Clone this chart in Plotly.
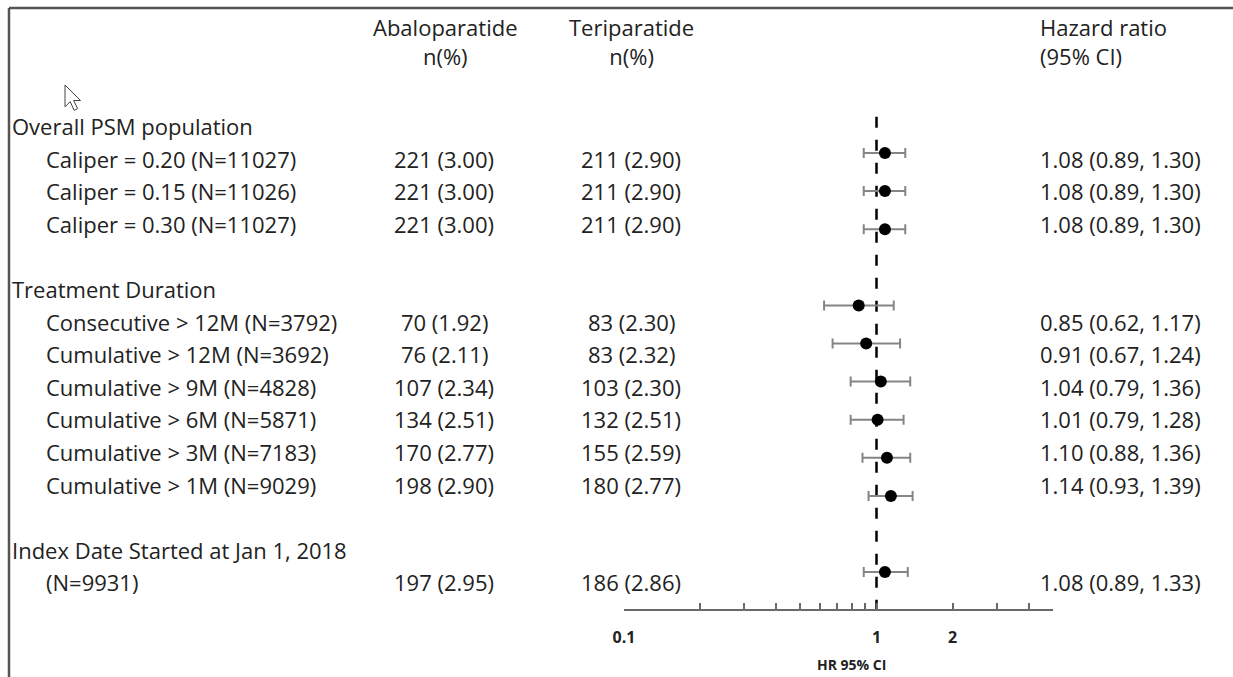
import math
import plotly.graph_objects as go

W, H = 1233, 677

# ---- table content -------------------------------------------------------
sections = [
    "Overall PSM population",
    "Treatment Duration",
    "Index Date Started at Jan 1, 2018",
]
row_section = [0, 0, 0, 1, 1, 1, 1, 1, 1, 2]
row_labels = [
    "Caliper = 0.20 (N=11027)",
    "Caliper = 0.15 (N=11026)",
    "Caliper = 0.30 (N=11027)",
    "Consecutive > 12M (N=3792)",
    "Cumulative > 12M (N=3692)",
    "Cumulative > 9M (N=4828)",
    "Cumulative > 6M (N=5871)",
    "Cumulative > 3M (N=7183)",
    "Cumulative > 1M (N=9029)",
    "(N=9931)",
]
abalo_n = [221, 221, 221, 70, 76, 107, 134, 170, 198, 197]
abalo_pct = [3.00, 3.00, 3.00, 1.92, 2.11, 2.34, 2.51, 2.77, 2.90, 2.95]
teri_n = [211, 211, 211, 83, 83, 103, 132, 155, 180, 186]
teri_pct = [2.90, 2.90, 2.90, 2.30, 2.32, 2.30, 2.51, 2.59, 2.77, 2.86]
hr = [1.08, 1.08, 1.08, 0.85, 0.91, 1.04, 1.01, 1.10, 1.14, 1.08]
hr_lo = [0.89, 0.89, 0.89, 0.62, 0.67, 0.79, 0.79, 0.88, 0.93, 0.89]
hr_hi = [1.30, 1.30, 1.30, 1.17, 1.24, 1.36, 1.28, 1.36, 1.39, 1.33]

headers = {
    "abalo": "Abaloparatide<br>n(%)",
    "teri": "Teriparatide<br>n(%)",
    "hr": "Hazard ratio<br>(95% CI)",
}
axis_ticks = [0.1, 0.2, 0.3, 0.4, 0.5, 0.6, 0.7, 0.8, 0.9, 1, 2, 3, 4, 5]
axis_labels = {0.1: "0.1", 1: "1", 2: "2"}
axis_title = "HR 95% CI"

# ---- layout helpers ------------------------------------------------------
FONT = "Open Sans"
TXT = "#222222"
FS = 22


def px(x):
    return x / W


def py(y):
    return 1 - y / H


# text grid: one line every 32.6 px starting at the first section title
TEXT_Y0, TEXT_STEP = 126, 32.6
# forest rows: one row every 38.1 px starting at the first estimate
PLOT_Y0, PLOT_STEP = 153, 38.1

annotations = []


def add_text(x, y, text, anchor="left", size=FS, bold=False):
    annotations.append(dict(
        x=px(x), y=py(y), xref="paper", yref="paper", text=text,
        showarrow=False, xanchor=anchor, yanchor="middle", borderpad=0,
        align=anchor,
        font=dict(family=FONT, size=size, color=TXT,
                  weight="bold" if bold else "normal"),
    ))


# column headers (two lines each)
add_text(445, 41, headers["abalo"], "center")
add_text(631, 41, headers["teri"], "center")
add_text(1039, 41, headers["hr"])

# body rows
plot_rows = []
t = 0
prev = None
for i, lab in enumerate(row_labels):
    g = row_section[i]
    if g != prev:
        if prev is not None:
            t += 1  # blank line between sections
        add_text(11, TEXT_Y0 + TEXT_STEP * t, sections[g])
        t += 1
        prev = g
    y = TEXT_Y0 + TEXT_STEP * t
    add_text(45, y, lab)
    add_text(444, y, f"{abalo_n[i]} ({abalo_pct[i]:.2f})", "center")
    add_text(631, y, f"{teri_n[i]} ({teri_pct[i]:.2f})", "center")
    add_text(1039, y, f"{hr[i]:.2f} ({hr_lo[i]:.2f}, {hr_hi[i]:.2f})")
    plot_rows.append(t - 1 - g)
    t += 1

axis_row = max(plot_rows) + 1
axis_px = PLOT_Y0 + PLOT_STEP * axis_row

add_text(851, 664, axis_title, "center", size=14, bold=True)

# ---- forest plot ---------------------------------------------------------
fig = go.Figure()
fig.add_trace(go.Scatter(
    x=hr, y=plot_rows, mode="markers",
    marker=dict(color="black", size=12),
    error_x=dict(
        type="data", symmetric=False,
        array=[h - e for h, e in zip(hr_hi, hr)],
        arrayminus=[e - l for e, l in zip(hr, hr_lo)],
        color="#858585", thickness=2, width=5,
    ),
    showlegend=False, hoverinfo="skip",
))

shapes = [
    # null-effect reference line
    dict(type="line", xref="x", yref="y", x0=1, x1=1,
         y0=-0.95, y1=axis_row,
         line=dict(color="black", width=2.5, dash="11px,12px"), layer="below"),
    # frame
    dict(type="line", xref="paper", yref="paper", x0=px(9), x1=1.0,
         y0=py(8), y1=py(8), line=dict(color="#555555", width=2.5)),
    dict(type="line", xref="paper", yref="paper", x0=px(9), x1=px(9),
         y0=py(8), y1=0, line=dict(color="#555555", width=2.5)),
]

# pointer glyph
arrow = [(0, 0), (0, 19), (4.5, 14.5), (8, 22), (11, 20.5), (7.5, 13.5), (13.5, 13.5)]
ox, oy, k = 65, 85, 1.15
path = "M " + " L ".join(f"{px(ox + k * a)},{py(oy + k * b)}" for a, b in arrow) + " Z"
shapes.append(dict(type="path", xref="paper", yref="paper", path=path,
                   fillcolor="white", line=dict(color="#444444", width=1)))

x_lo, x_hi = 0.1, 5
fig.update_layout(
    width=W, height=H,
    margin=dict(l=0, r=0, t=0, b=0, pad=0, autoexpand=False),
    paper_bgcolor="white", plot_bgcolor="white",
    xaxis=dict(
        type="log", range=[math.log10(x_lo), math.log10(x_hi)],
        domain=[px(624), px(1053)],
        anchor="free", position=py(axis_px),
        showline=True, linecolor="#6a6a6a", linewidth=2,
        ticks="inside", ticklen=6, tickwidth=1.5, tickcolor="#6a6a6a",
        tickvals=axis_ticks,
        ticktext=[axis_labels.get(v, "") for v in axis_ticks],
        tickfont=dict(family=FONT, size=16, color=TXT, weight="bold"),
        ticklabelstandoff=13,
        showgrid=False, zeroline=False, fixedrange=True, automargin=False,
    ),
    yaxis=dict(
        range=[(H - PLOT_Y0) / PLOT_STEP, -PLOT_Y0 / PLOT_STEP],
        domain=[0, 1], visible=False, showgrid=False, zeroline=False,
        fixedrange=True, automargin=False,
    ),
    shapes=shapes,
    annotations=annotations,
)

fig.write_html(
    "out.html",
    config={"displayModeBar": False},
    post_script="document.body.style.margin='0';document.body.style.overflow='hidden';",
)
